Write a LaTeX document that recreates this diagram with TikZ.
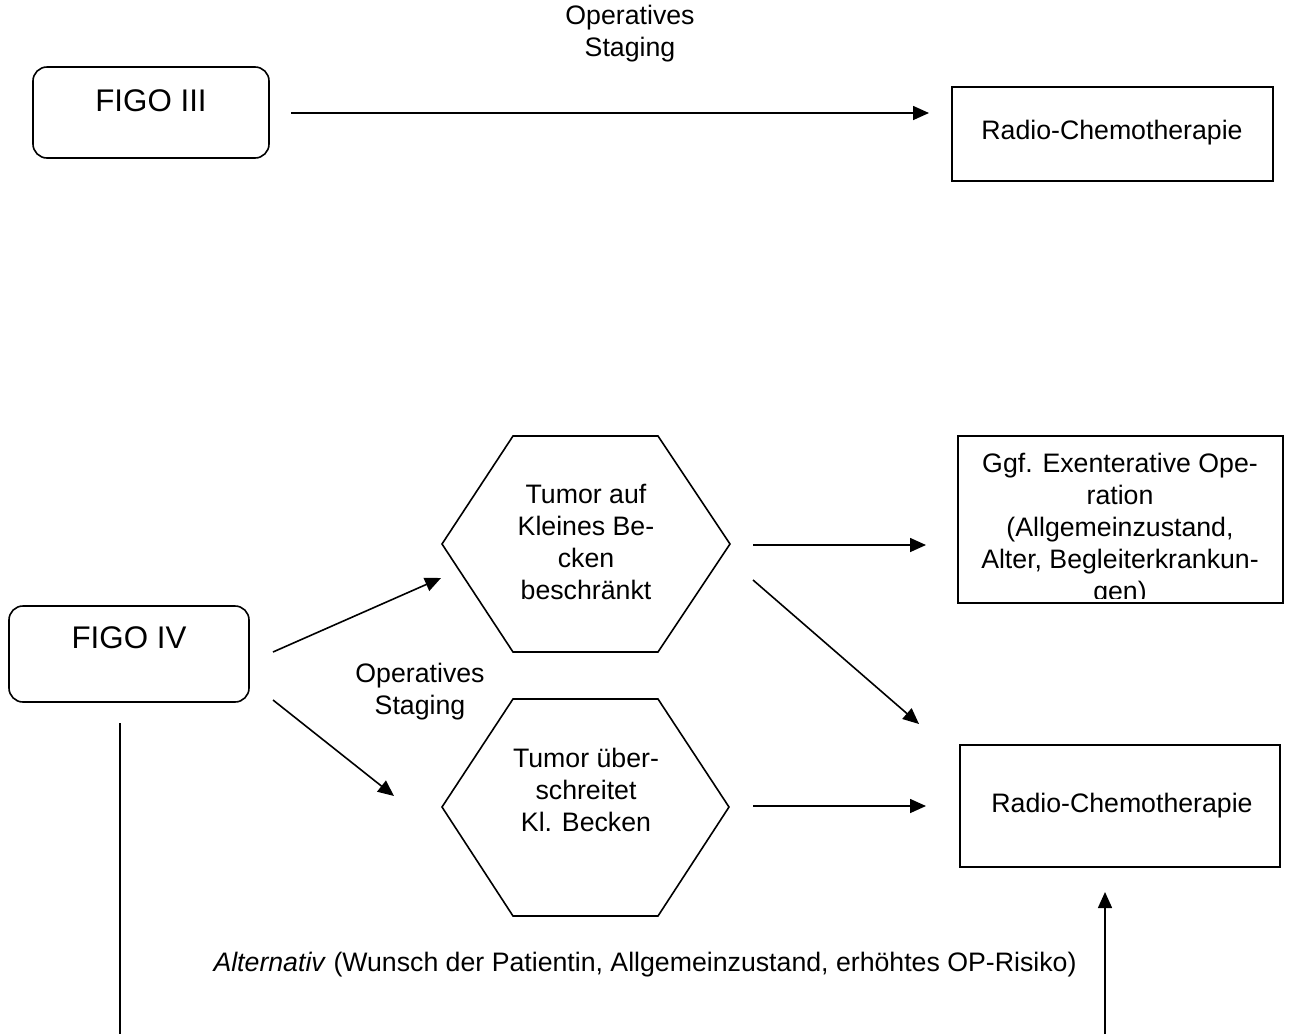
\documentclass[tikz,border=0pt]{standalone}
\usepackage{fontspec}
\setmainfont{Liberation Sans}
\usetikzlibrary{arrows.meta}
\begin{document}
\begin{tikzpicture}[x=1pt,y=-1pt,
  txt/.style={font=\fontsize{26.7}{32}\selectfont, align=center, inner sep=0pt},
  big/.style={font=\fontsize{31.3}{36}\selectfont, inner sep=0pt},
  shp/.style={line width=1.6pt},
  arr/.style={line width=1.6pt, -{Triangle[length=16pt,width=14pt]}},
  ln/.style={line width=1.6pt}]
\useasboundingbox (0,0) rectangle (1290,1034);

% FIGO III row
\draw[shp, rounded corners=14pt] (33,67) rectangle (269,158);
\node[big] (figo3) at (151,101) {FIGO III};
\draw[shp] (952,87) rectangle (1273,181);
\node[txt] (rc1) at (1112,133) {Radio-Chemotherapie};
\coordinate (a1s) at (291,113);
\coordinate (a1e) at (929,113);
\draw[arr] (a1s) -- (a1e);
\node[txt] (op1) at (630,34) {Operatives\\Staging};

% FIGO IV
\draw[shp, rounded corners=14pt] (9,606) rectangle (249,702);
\node[big] (figo4) at (129,638) {FIGO IV};

% hexagons
\draw[shp] (442,544) -- (513,436) -- (658,436) -- (730,544) -- (658,652) -- (513,652) -- cycle;
\node[txt] (hexA) at (586,542) {Tumor auf\\Kleines Be-\\cken\\beschränkt};
\draw[shp] (442,807) -- (513,699) -- (658,699) -- (729,807) -- (658,916) -- (513,916) -- cycle;
\node[txt] (hexB) at (586,790) {Tumor über-\\schreitet\\Kl. Becken};

\node[txt] (op2) at (420,692) {Operatives\\Staging};

% Ggf box
\draw[shp] (958,436) rectangle (1283,603);
\begin{scope}
\clip (958,436) rectangle (1283,598);
\node[txt] (ggf) at (1120,530) {Ggf. Exenterative Ope-\\ration\\(Allgemeinzustand,\\Alter, Begleiterkrankun-\\gen)};
\end{scope}

% Radio-Chemo 2
\draw[shp] (960,745) rectangle (1280,867);
\node[txt] (rc2) at (1122,806) {Radio-Chemotherapie};

% arrows
\coordinate (b1s) at (273,652);
\coordinate (b1e) at (441,578);
\draw[arr] (b1s) -- (b1e);
\coordinate (b2s) at (273,700);
\coordinate (b2e) at (394,796);
\draw[arr] (b2s) -- (b2e);
\coordinate (c1s) at (753,545);
\coordinate (c1e) at (926,545);
\draw[arr] (c1s) -- (c1e);
\coordinate (c2s) at (753,580);
\coordinate (c2e) at (919,724);
\draw[arr] (c2s) -- (c2e);
\coordinate (c3s) at (753,806);
\coordinate (c3e) at (926,806);
\draw[arr] (c3s) -- (c3e);

\node[txt] (alt) at (645,965) {\textit{Alternativ} (Wunsch der Patientin, Allgemeinzustand, erhöhtes OP-Risiko)};

\coordinate (v1s) at (120,723);
\coordinate (v1e) at (120,1034);
\draw[ln] (v1s) -- (v1e);
\coordinate (v2s) at (1105,1034);
\coordinate (v2e) at (1105,892);
\draw[arr] (v2s) -- (v2e);
\end{tikzpicture}
\end{document}
